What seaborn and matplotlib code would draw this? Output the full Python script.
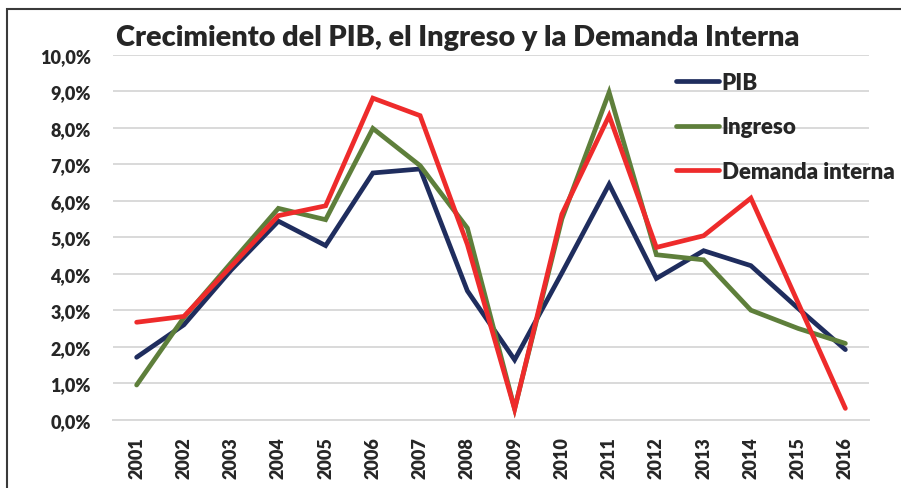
import numpy as np
import pandas as pd
import matplotlib
matplotlib.use("Agg")
import matplotlib.pyplot as plt
import seaborn as sns
from matplotlib.patches import Rectangle

# data (growth, %)
years = [str(y) for y in range(2001, 2017)]
pib = [1.71, 2.60, 4.10, 5.44, 4.77, 6.76, 6.87, 3.53, 1.64, 4.02, 6.45, 3.87, 4.63, 4.22, 3.05, 1.92]
ingreso = [0.95, 2.80, 4.30, 5.79, 5.48, 7.98, 6.96, 5.25, 0.30, 5.50, 8.97, 4.52, 4.38, 3.00, 2.50, 2.09]
demanda = [2.67, 2.83, 4.20, 5.59, 5.86, 8.81, 8.33, 4.80, 0.29, 5.63, 8.33, 4.72, 5.04, 6.07, 3.20, 0.31]
series_names = ["PIB", "Ingreso", "Demanda interna"]
colors = ["#1F2D5E", "#5E7F3B", "#EE2B2B"]

df = pd.DataFrame({
    "pos": list(range(len(years))) * 3,
    "valor": pib + ingreso + demanda,
    "serie": [s for s in series_names for _ in years],
})

sns.set_style("white")
plt.rcParams["font.family"] = ["Lato", "DejaVu Sans"]
plt.rcParams["font.weight"] = "heavy"

fig = plt.figure(figsize=(9.01, 4.89), dpi=100)
ax = fig.add_axes([113 / 901, 1 - 420.7 / 489, 756 / 901, 365 / 489])

sns.lineplot(data=df, x="pos", y="valor", hue="serie", palette=colors,
             hue_order=series_names, linewidth=3.4, ax=ax, legend=False,
             solid_capstyle="round", solid_joinstyle="miter")

ax.set_xlim(-0.5, len(years) - 0.5)
ax.set_ylim(0, 10)
ax.set_yticks(np.arange(0, 11, 1))
ax.set_yticklabels([f"{v:.1f}%".replace(".", ",") for v in range(0, 11)],
                   fontsize=13, fontweight="heavy")
ax.yaxis.grid(True, color="#D9D9D9", linewidth=1.4)
ax.set_axisbelow(True)
ax.tick_params(axis="y", length=0, pad=16)

ax.set_xticks(range(len(years)))
ax.set_xticklabels(years, rotation=90, fontsize=13, fontweight="heavy")
ax.set_xticks(np.arange(-0.5, len(years), 1), minor=True)
ax.tick_params(axis="x", which="major", length=0, pad=12)
ax.tick_params(axis="x", which="minor", length=7, width=1.4, color="#D9D9D9", direction="out")
ax.set_xlabel("")
ax.set_ylabel("")
for s in ["top", "right", "left"]:
    ax.spines[s].set_visible(False)
ax.spines["bottom"].set_color("#D9D9D9")
ax.spines["bottom"].set_linewidth(1.4)

fig.text(116 / 901, 1 - 38 / 489, "Crecimiento del PIB, el Ingreso y la Demanda Interna",
         fontsize=20.8, fontweight="heavy", va="center", ha="left")

# legend
handles = [plt.Line2D([], [], color=c, linewidth=3.4) for c in colors]
fig.legend(handles, series_names, loc="upper left", bbox_to_anchor=(665 / 901, 1 - 62 / 489),
           frameon=False, prop={"weight": "heavy", "size": 16},
           handlelength=1.95, handletextpad=0.1, labelspacing=1.05, borderpad=0)

# outer chart border
fig.add_artist(Rectangle((7 / 901, -0.1), 1.2, 1 - 10 / 489 + 0.1, transform=fig.transFigure,
                         fill=False, edgecolor="#3A3A3A", linewidth=1.5))

fig.savefig("out.png", dpi=100)
